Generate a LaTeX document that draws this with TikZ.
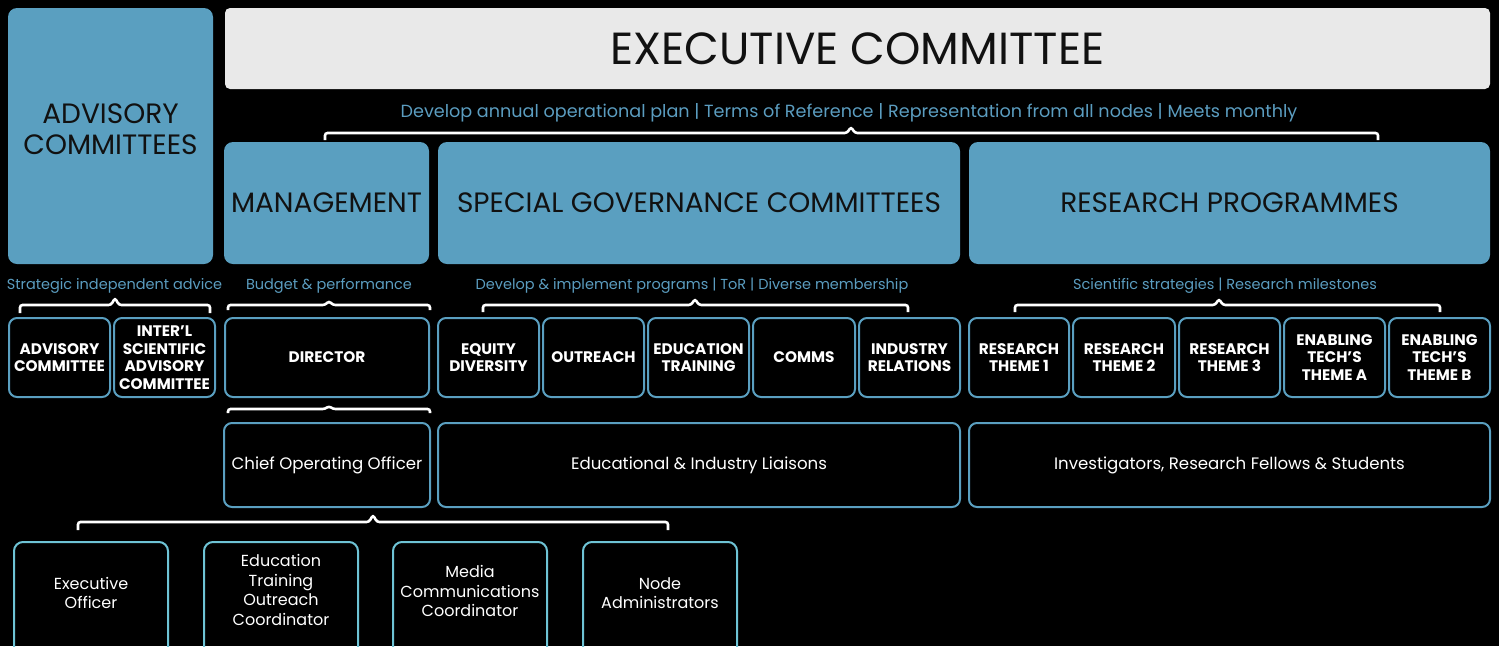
\documentclass[tikz,border=0pt]{standalone}
\usepackage{fontspec}
\setmainfont{Poppins}
\definecolor{bfill}{HTML}{5A9FC0}
\definecolor{gfill}{HTML}{E9E9E9}
\definecolor{btext}{HTML}{5B9DC0}
\definecolor{cyanline}{HTML}{6EC3D5}
\definecolor{dark}{HTML}{111111}
\newcommand\drawbrace[5]{% x1, x2, tip, y, drop
  \draw[bracestyle] (#1,#4+#5) -- (#1,#4) -- (#3-4,#4) -- (#3,#4-#5+1) -- (#3+4,#4) -- (#2,#4) -- (#2,#4+#5);}
\begin{document}
\begin{tikzpicture}[x=1pt,y=-1pt,
  bluebox/.style={fill=bfill, rounded corners=9pt, inner sep=0pt, align=center, text=dark},
  graybox/.style={fill=gfill, rounded corners=5pt, inner sep=0pt, text=dark},
  outbox/.style={draw=bfill, line width=2pt, rounded corners=8pt, inner sep=0pt, align=center, text=white},
  lowbox/.style={draw=cyanline, line width=2pt, rounded corners=9pt, inner sep=0pt},
  capsmall/.style={font=\fontsize{15.3}{17.5}\selectfont\bfseries},
  body/.style={font=\fontsize{16.6}{20}\selectfont, text=white, align=center},
  lowtext/.style={font=\fontsize{16}{19.7}\selectfont, text=white, align=center},
  title/.style={font=\fontsize{28}{31}\selectfont},
  note/.style={text=btext, font=\fontsize{14.5}{17}\selectfont},
  bracestyle/.style={draw=white, line width=2.6pt, rounded corners=2.5pt}]
\fill[black] (0,0) rectangle (1499,646);
\useasboundingbox (0,0) rectangle (1499,646);
\begin{scope}
\clip (0,0) rectangle (1499,646);
% top blocks
\node[bluebox, minimum width=205, minimum height=256] (adv) at (110.5,136) {};
\node[title, text=dark, align=center] (advt) at (110.5,129) {ADVISORY\\COMMITTEES};
\node[graybox, minimum width=1265, minimum height=81, font=\fontsize{45}{52}\selectfont] (exec) at (857.5,48.5) {EXECUTIVE COMMITTEE};
\node[text=btext, font=\fontsize{17.6}{21}\selectfont] (execnote) at (849,112.5) {Develop annual operational plan | Terms of Reference | Representation from all nodes | Meets monthly};
\drawbrace{325}{1378}{851}{133}{7}
\node[bluebox, title, minimum width=205, minimum height=122] (mgmt) at (326.5,203) {MANAGEMENT};
\node[bluebox, title, minimum width=522, minimum height=122] (sgc) at (699,203) {SPECIAL GOVERNANCE COMMITTEES};
\node[bluebox, title, minimum width=521, minimum height=122] (rp) at (1229.5,203) {RESEARCH PROGRAMMES};
% notes
\node[note] (n1) at (114.5,285.5) {Strategic independent advice};
\node[note] (n2) at (329,285.5) {Budget \& performance};
\node[note] (n3) at (692,285.5) {Develop \& implement programs | ToR | Diverse membership};
\node[note] (n4) at (1225,285.5) {Scientific strategies | Research milestones};
\drawbrace{20}{210}{115}{305}{8}
\drawbrace{228}{430}{329}{305}{5}
\drawbrace{483}{908}{695}{305}{7}
\drawbrace{1015}{1440}{1219}{305}{7}
% row 2
\node[outbox, capsmall, minimum width=101, minimum height=79] (advc) at (59.5,357.5) {ADVISORY\\COMMITTEE};
\node[outbox, capsmall, minimum width=101, minimum height=79] (intl) at (164.5,357.5) {INTER’L\\SCIENTIFIC\\ADVISORY\\COMMITTEE};
\node[outbox, capsmall, minimum width=204, minimum height=79] (dir) at (327,357.5) {DIRECTOR};
\node[outbox, capsmall, minimum width=101, minimum height=79] (eq) at (488.5,357.5) {EQUITY\\DIVERSITY};
\node[outbox, capsmall, minimum width=101, minimum height=79] (outr) at (593.5,357.5) {OUTREACH};
\node[outbox, capsmall, minimum width=101, minimum height=79] (edu) at (698.5,357.5) {EDUCATION\\TRAINING};
\node[outbox, capsmall, minimum width=102, minimum height=79] (comms) at (804,357.5) {COMMS};
\node[outbox, capsmall, minimum width=101, minimum height=79] (ind) at (909.5,357.5) {INDUSTRY\\RELATIONS};
\node[outbox, capsmall, minimum width=100, minimum height=79] (rt1) at (1019,357.5) {RESEARCH\\THEME 1};
\node[outbox, capsmall, minimum width=102, minimum height=79] (rt2) at (1124,357.5) {RESEARCH\\THEME 2};
\node[outbox, capsmall, minimum width=101, minimum height=79] (rt3) at (1229.5,357.5) {RESEARCH\\THEME 3};
\node[outbox, capsmall, minimum width=101, minimum height=79] (eta) at (1334.5,357.5) {ENABLING\\TECH’S\\THEME A};
\node[outbox, capsmall, minimum width=101, minimum height=79] (etb) at (1439.5,357.5) {ENABLING\\TECH’S\\THEME B};
\drawbrace{228}{430}{329}{409}{4}
% row 3
\node[outbox, body, minimum width=206, minimum height=84] (coo) at (327,465) {Chief Operating Officer};
\node[outbox, body, minimum width=522, minimum height=84] (eil) at (699,465) {Educational \& Industry Liaisons};
\node[outbox, body, minimum width=521, minimum height=84] (inv) at (1229.5,465) {Investigators, Research Fellows \& Students};
\drawbrace{78}{668}{373}{522}{8}
% bottom row
\node[lowbox, anchor=north, minimum width=154, minimum height=140] (eo) at (91,541) {};
\node[lowbox, anchor=north, minimum width=154, minimum height=140] (etoc) at (281,541) {};
\node[lowbox, anchor=north, minimum width=154, minimum height=140] (mcc) at (470,541) {};
\node[lowbox, anchor=north, minimum width=154, minimum height=140] (na) at (660,541) {};
\node[lowtext] (eot) at ([yshift=-52pt]eo.north) {Executive\\Officer};
\node[lowtext] (etoct) at ([yshift=-49pt]etoc.north) {Education\\Training\\Outreach\\Coordinator};
\node[lowtext] (mcct) at ([yshift=-50pt]mcc.north) {Media\\Communications\\Coordinator};
\node[lowtext] (nat) at ([yshift=-52pt]na.north) {Node\\Administrators};
\end{scope}
\end{tikzpicture}
\end{document}
